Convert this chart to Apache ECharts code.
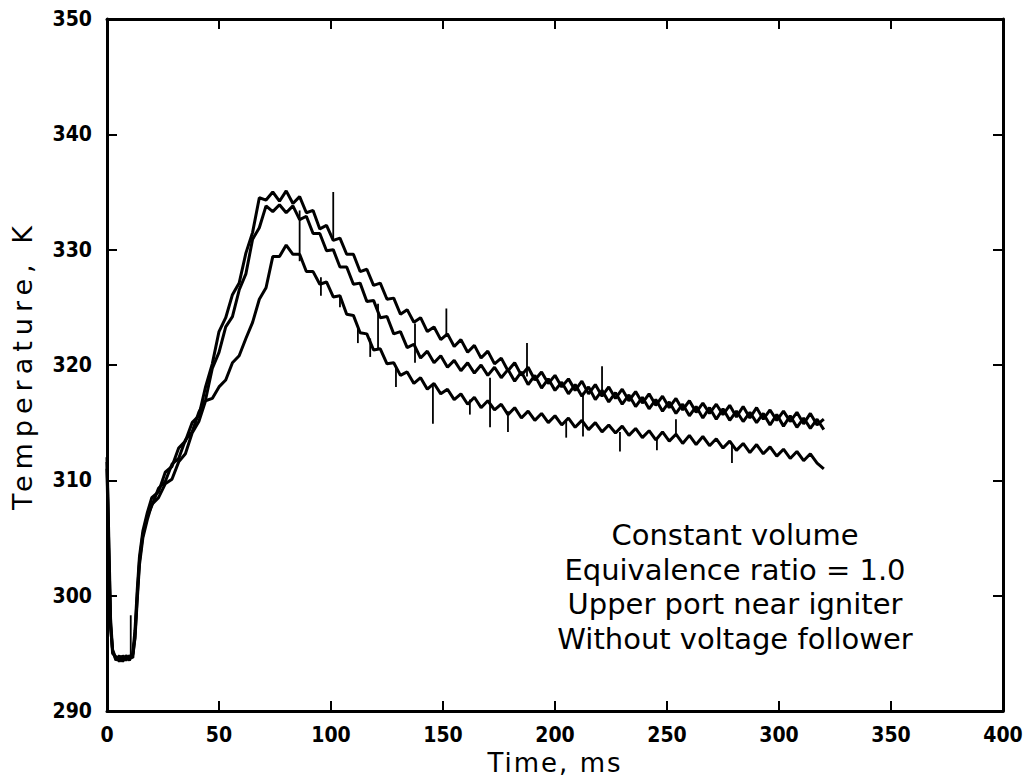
<!DOCTYPE html>
<html>
<head>
<meta charset="utf-8">
<script src="https://cdn.jsdelivr.net/npm/echarts@6/dist/echarts.min.js"></script>
<style>
html,body{margin:0;padding:0;background:#fff;}
#chart{width:1029px;height:777px;}
</style>
</head>
<body>
<div id="chart"></div>
<script>
// Time samples (ms)
var times = [0,0.8,1.6,2.5,4,5.5,7,8.5,10,11.5,12.5,13.5,14.5,16,18,
20,23,26,29,32,35,38,41,44,47,50,53,56,59,62,65,68,71,74,77,80,83,86,89,92,95,98,101,104,107,110,113,116,119,122,125,128,131,134,137,140,143,146,149,152,155,158,161,164,167,170,173,176,179,182,185,188,191,194,197,200,203,206,209,212,215,218,221,224,227,230,233,236,239,242,245,248,251,254,257,260,263,266,269,272,275,278,281,284,287,290,293,296,299,302,305,308,311,314,317,320];

// Temperature traces (K)
var traceA = [312.0,305.0,298.0,295.2,294.4,294.8,294.3,294.7,294.4,295.0,297.0,300.5,303.4,305.6,307.2,
308.5,309.0,310.7,311.2,312.8,313.4,315.0,315.6,318.1,320.1,322.9,324.1,326.1,327.1,329.7,331.5,
334.5,334.3,335.0,334.2,335.1,334.0,334.6,333.2,333.4,331.8,332.1,330.8,331.0,329.6,329.6,328.1,328.3,326.9,327.1,325.7,325.8,324.4,324.8,323.7,324.1,322.9,323.3,322.2,322.7,321.6,322.2,321.1,321.7,320.6,321.2,320.1,320.6,319.5,
320.2,319.1,319.8,318.7,319.4,318.4,319.1,318.1,318.8,317.8,318.6,317.5,318.3,317.3,318.1,317.1,317.9,316.9,317.7,316.7,317.5,316.5,317.3,316.3,317.1,316.1,316.9,315.9,316.7,315.8,316.6,315.7,316.5,315.5,316.4,315.4,316.3,315.3,316.1,315.2,316.0,315.1,315.9,314.9,315.8,314.8,315.3];

var traceB = [311.6,304.0,297.5,295.0,294.7,294.3,294.8,294.4,294.8,294.6,296.5,300.0,303.0,305.3,306.9,
307.8,309.3,309.9,311.4,311.9,313.5,314.2,315.9,317.0,319.7,321.1,323.3,324.2,326.5,327.9,330.9,
331.9,333.8,333.3,333.9,333.2,333.8,332.6,332.9,331.4,331.4,329.9,330.0,328.5,328.5,327.0,327.1,325.5,325.6,324.1,324.2,322.7,322.9,321.5,321.8,320.6,321.2,320.2,320.8,319.8,320.4,319.5,320.2,319.3,320.0,319.1,319.8,318.9,319.6,
318.6,319.4,318.3,319.1,318.0,318.8,317.8,318.5,317.5,318.3,317.3,318.1,317.0,317.8,316.8,317.6,316.6,317.4,316.4,317.2,316.2,317.0,316.0,316.8,315.8,316.6,315.6,316.4,315.4,316.3,315.3,316.2,315.2,316.0,315.1,315.9,315.0,315.8,314.8,315.7,314.7,315.6,314.6,315.4,314.5,315.3,314.4];

var traceC = [311.0,303.0,297.2,295.3,294.5,294.6,294.4,294.8,294.5,294.9,296.3,299.6,302.7,305.0,306.6,
307.9,308.5,309.7,310.1,311.6,312.3,314.1,315.1,316.9,317.1,318.1,318.7,320.2,320.8,322.3,323.7,
325.7,326.7,329.4,329.4,330.4,329.6,329.6,328.1,328.1,327.0,327.2,325.9,326.0,324.4,324.3,322.8,322.7,321.3,321.4,320.1,320.2,319.1,319.4,318.4,318.9,317.9,318.4,317.5,317.9,317.0,317.5,316.6,317.2,316.3,316.9,316.1,316.6,315.7,
316.3,315.4,316.0,315.2,315.8,315.0,315.6,314.8,315.4,314.6,315.2,314.4,315.0,314.2,314.8,314.1,314.7,313.9,314.5,313.7,314.3,313.5,314.2,313.4,314.0,313.2,313.9,313.1,313.8,313.0,313.6,312.8,313.4,312.6,313.2,312.4,313.1,312.3,312.9,312.1,312.7,311.9,312.5,311.7,312.3,311.5,311.0];

// Narrow noise spikes: [time, from K, to K]
var spikes = [[10.6,294.6,298.3],[86,333.4,329.0],[95.5,327.6,326.0],[101,331.0,335.0],[104,326.0,325.0],
[112,323.2,321.9],[117.5,322.3,320.7],[121,325.3,321.3],[129,319.8,318.1],[137.5,323.6,320.2],
[145.5,318.3,314.9],[151.5,322.5,324.9],[162,317.0,315.7],[171,318.9,314.6],[179,316.0,314.2],
[187.5,319.0,321.9],[205,315.3,313.7],[212.5,317.6,313.8],[221,317.4,319.9],[229,314.2,312.5],
[245.5,313.7,312.6],[254,313.8,315.3],[279,313.2,311.5]];

var xTicks = {min:0, max:400, interval:50};
var yTicks = {min:290, max:350, interval:10};

var xTitle = 'Time, ms';
var yTitle = 'Temperature, K';
var notes = ['Constant volume','Equivalence ratio = 1.0','Upper port near igniter','Without voltage follower'];

function pairs(vals){ return times.map(function(t,i){ return [t, vals[i]]; }); }

var labelFont = {fontFamily:'DejaVu Sans Condensed, sans-serif', fontWeight:'bold', fontSize:21, color:'#000'};
var axisLine = {show:true, onZero:false, lineStyle:{color:'#000', width:3}};
var tick = {show:true, inside:true, length:10, lineStyle:{color:'#000', width:2}};

var chart = echarts.init(document.getElementById('chart'), null, {renderer:'svg'});
var lineStyle = {color:'#000', width:3};
var option = {
  animation:false,
  backgroundColor:'#fff',
  grid:{left:107, right:26, top:19, bottom:66, containLabel:false, outerBoundsMode:'none'},
  xAxis:[
    {type:'value', min:xTicks.min, max:xTicks.max, interval:xTicks.interval, position:'bottom',
     name:xTitle, nameLocation:'middle', nameGap:33,
     nameTextStyle:{fontFamily:'DejaVu Sans', fontSize:26, color:'#000'},
     axisLine:axisLine, axisTick:tick, splitLine:{show:false},
     axisLabel:Object.assign({margin:13}, labelFont)},
    {type:'value', min:xTicks.min, max:xTicks.max, interval:xTicks.interval, position:'top',
     axisLine:axisLine, axisTick:tick, axisLabel:{show:false}, splitLine:{show:false}}
  ],
  yAxis:[
    {type:'value', min:yTicks.min, max:yTicks.max, interval:yTicks.interval, position:'left',
     name:yTitle, nameLocation:'middle', nameGap:71,
     nameTextStyle:{fontFamily:'DejaVu Sans', fontSize:27, color:'#000'},
     axisLine:axisLine, axisTick:tick, splitLine:{show:false},
     axisLabel:Object.assign({margin:15}, labelFont)},
    {type:'value', min:yTicks.min, max:yTicks.max, interval:yTicks.interval, position:'right',
     axisLine:axisLine, axisTick:tick, axisLabel:{show:false}, splitLine:{show:false}}
  ],
  series:[
    {type:'line', name:'A', data:pairs(traceA), showSymbol:false, symbol:'none', lineStyle:lineStyle, z:3},
    {type:'line', name:'B', data:pairs(traceB), showSymbol:false, symbol:'none', lineStyle:lineStyle, z:3},
    {type:'line', name:'C', data:pairs(traceC), showSymbol:false, symbol:'none', lineStyle:lineStyle, z:3},
    {type:'custom', name:'spikes', data:spikes, encode:{x:0, y:[1,2]}, z:4,
     renderItem:function(params, api){
       var p1 = api.coord([api.value(0), api.value(1)]);
       var p2 = api.coord([api.value(0), api.value(2)]);
       return {type:'line', shape:{x1:p1[0], y1:p1[1], x2:p2[0], y2:p2[1]}, style:{stroke:'#000', lineWidth:1.8}};
     }}
  ],
  graphic: notes.map(function(txt, i){
    return {type:'text', x:735, y:535 + i*34.5, z:10,
      style:{text:txt, fill:'#000', font:'29px "DejaVu Sans"', textAlign:'center', textVerticalAlign:'middle'}};
  })
};
chart.setOption(option);

// plotter-style letter spacing for the axis titles
function spaceTitles(){
  var nodes = document.querySelectorAll('#chart svg text');
  for (var i = 0; i < nodes.length; i++) {
    var tc = nodes[i].textContent;
    if (tc === yTitle) nodes[i].setAttribute('letter-spacing', '6px');
    else if (tc === xTitle) nodes[i].setAttribute('letter-spacing', '2px');
  }
}
chart.on('finished', spaceTitles);
setTimeout(spaceTitles, 50);
</script>
</body>
</html>
